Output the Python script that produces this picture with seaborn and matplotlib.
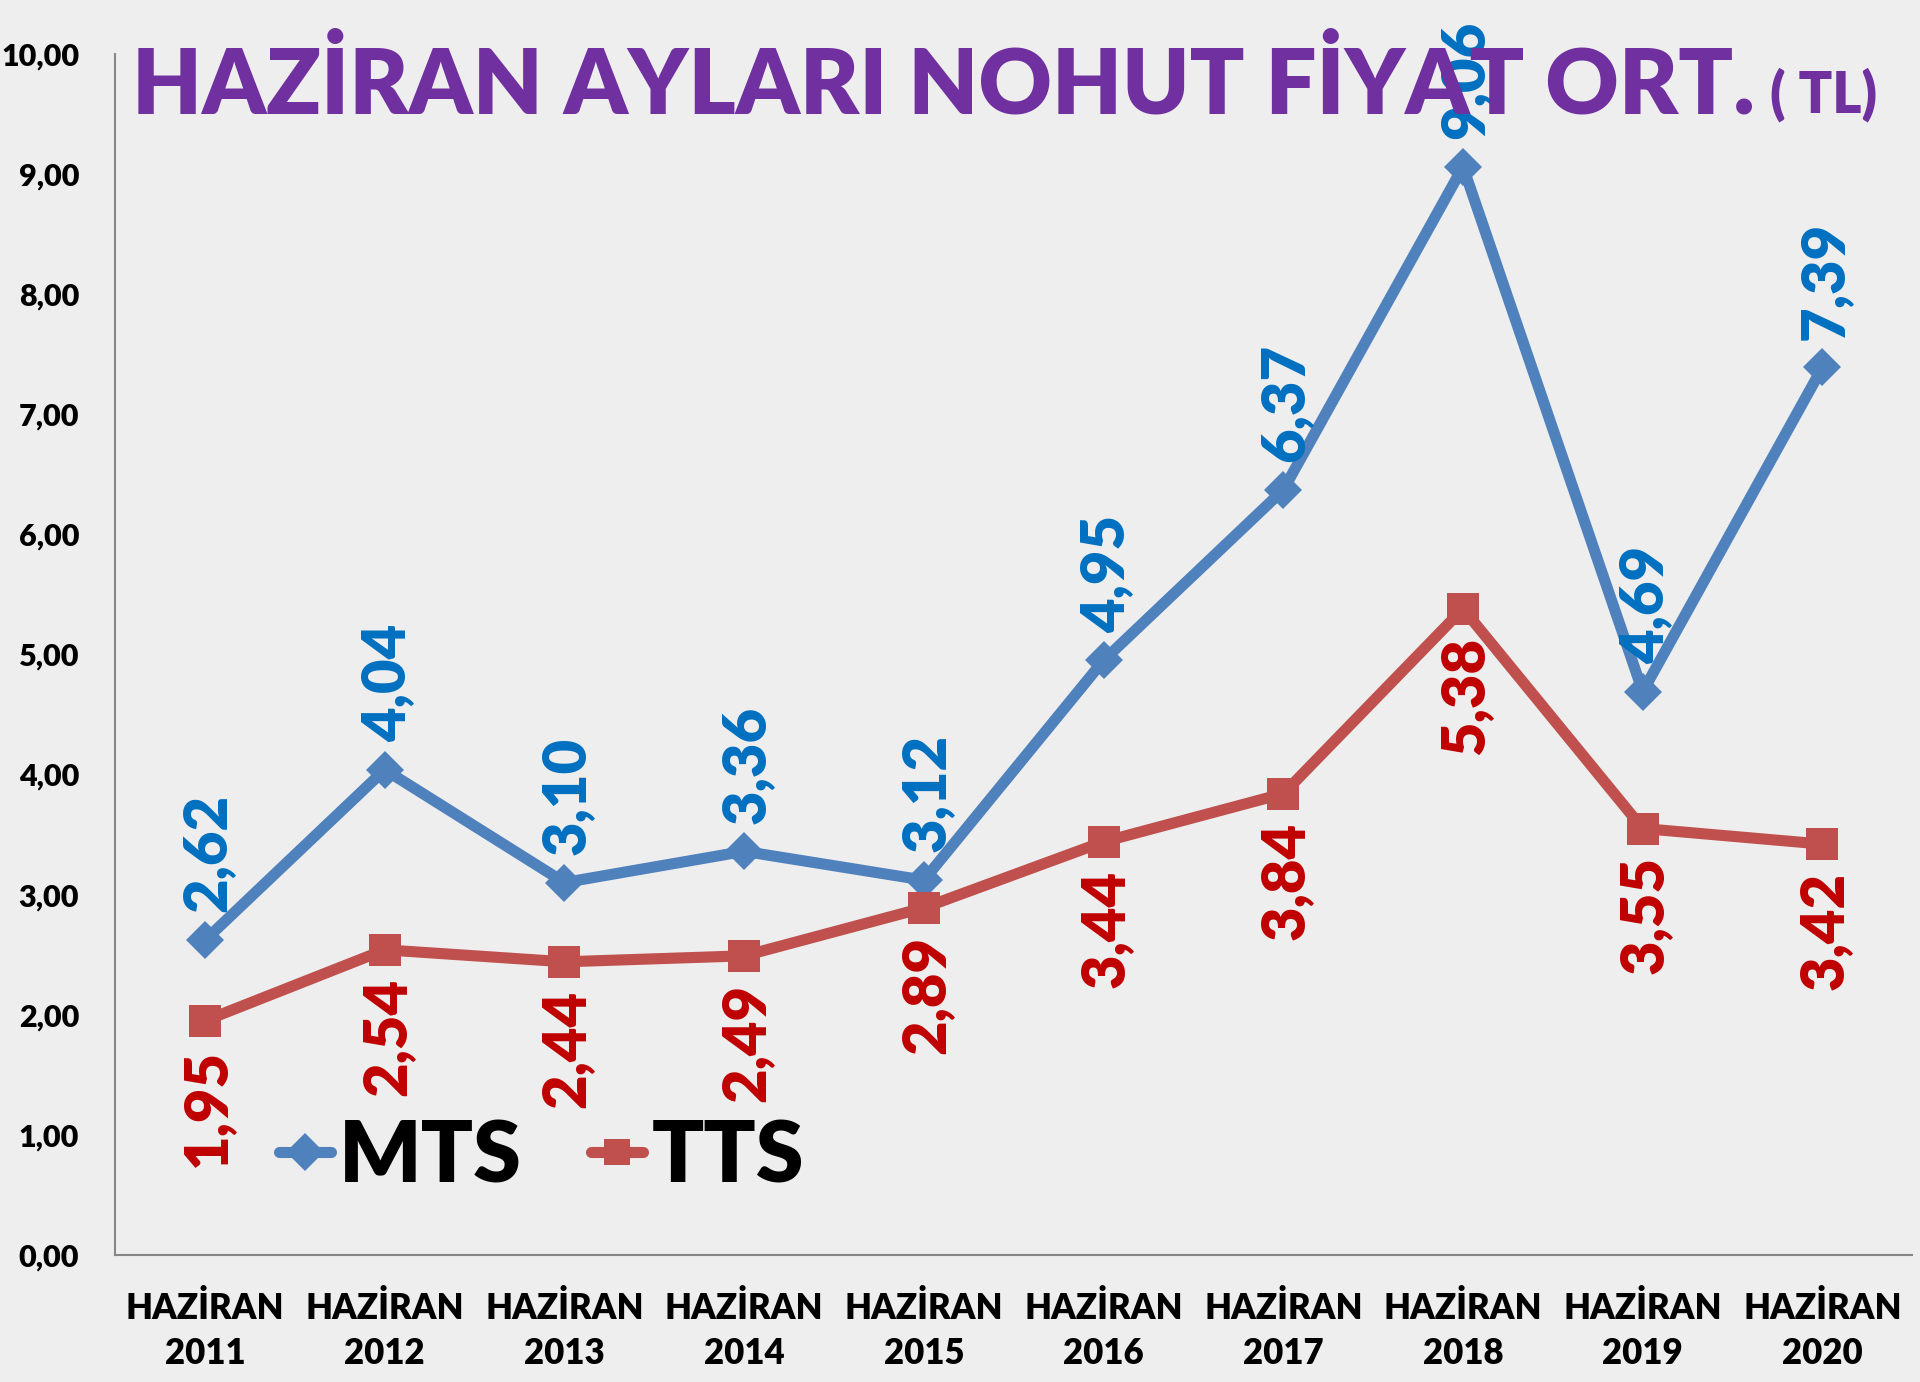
import numpy as np
import pandas as pd
import matplotlib
matplotlib.use('Agg')
import matplotlib.pyplot as plt
import seaborn as sns

# veriler
yillar = ['2011', '2012', '2013', '2014', '2015', '2016', '2017', '2018', '2019', '2020']
mts = [2.62, 4.04, 3.10, 3.36, 3.12, 4.95, 6.37, 9.06, 4.69, 7.39]
tts = [1.95, 2.54, 2.44, 2.49, 2.89, 3.44, 3.84, 5.38, 3.55, 3.42]
y_ticks = [0, 1, 2, 3, 4, 5, 6, 7, 8, 9, 10]

bg = '#eeeeee'
sns.set_style('white')
plt.rcParams['font.family'] = ['Lato', 'DejaVu Sans']
plt.rcParams['font.weight'] = 'bold'
plt.rcParams['text.color'] = 'black'

df = pd.DataFrame({
    'idx': list(range(len(yillar))) * 2,
    'fiyat': mts + tts,
    'seri': ['MTS'] * len(yillar) + ['TTS'] * len(yillar),
})

fig = plt.figure(figsize=(19.2, 13.82), dpi=100, facecolor=bg)
ax = fig.add_axes([0.060, 0.092, 0.936, 0.869])
ax.set_facecolor(bg)

renkler = {'MTS': '#4F81BD', 'TTS': '#C0504D'}
sns.lineplot(data=df, x='idx', y='fiyat', hue='seri', style='seri',
             markers={'MTS': 'D', 'TTS': 's'}, dashes=False, palette=renkler,
             linewidth=8, markersize=19, markeredgewidth=0, ax=ax)
ax.lines[1].set_markersize(23)

# veri etiketleri
for i, v in enumerate(mts):
    ax.annotate(f'{v:.2f}'.replace('.', ','), (i, v), xytext=(2, 20), textcoords='offset points',
                rotation=90, ha='center', va='bottom', color='#0070C0', fontsize=43, fontweight='heavy')
for i, v in enumerate(tts):
    ax.annotate(f'{v:.2f}'.replace('.', ','), (i, v), xytext=(2, -20), textcoords='offset points',
                rotation=90, ha='center', va='top', color='#C00000', fontsize=43, fontweight='heavy')

ax.set_xlim(-0.5, len(yillar) - 0.5)
ax.set_ylim(0, 10)
ax.set_yticks(y_ticks)
ax.set_yticklabels([f'{t:.2f}'.replace('.', ',') for t in y_ticks], fontsize=22, fontweight='heavy')
ax.set_xticks(range(len(yillar)))
ax.set_xticklabels([f'HAZİRAN\n{y}' for y in yillar], fontsize=25, fontweight='heavy', linespacing=1.45)
ax.set_xticks(np.arange(-0.5, len(yillar), 1), minor=True)
ax.tick_params(axis='x', which='major', length=0, pad=26, labelcolor='black')
ax.tick_params(axis='x', which='minor', length=12, width=1.5, color='#868686', direction='out')
ax.tick_params(axis='y', length=8, width=1.5, color='#868686', direction='out', pad=18, labelcolor='black')
ax.set_xlabel('')
ax.set_ylabel('')
for s in ['top', 'right']:
    ax.spines[s].set_visible(False)
for s in ['left', 'bottom']:
    ax.spines[s].set_color('#868686')
    ax.spines[s].set_linewidth(1.5)

leg = ax.legend(loc='lower left', bbox_to_anchor=(0.072, 0.02), ncol=2, frameon=False,
                prop={'size': 62, 'weight': 'heavy'}, handlelength=0.6, handletextpad=0.1,
                columnspacing=0.8, borderaxespad=0, labelcolor='black')

fig.text(132 / 1920, 1 - 113 / 1382, 'HAZİRAN AYLARI NOHUT FİYAT ORT.', color='#7030A0',
         fontsize=65, fontweight='heavy', va='baseline', ha='left')
fig.text(1770 / 1920, 1 - 113 / 1382, '( TL)', color='#7030A0',
         fontsize=40, fontweight='heavy', va='baseline', ha='left')

fig.savefig('out.png', dpi=100, facecolor=bg)
